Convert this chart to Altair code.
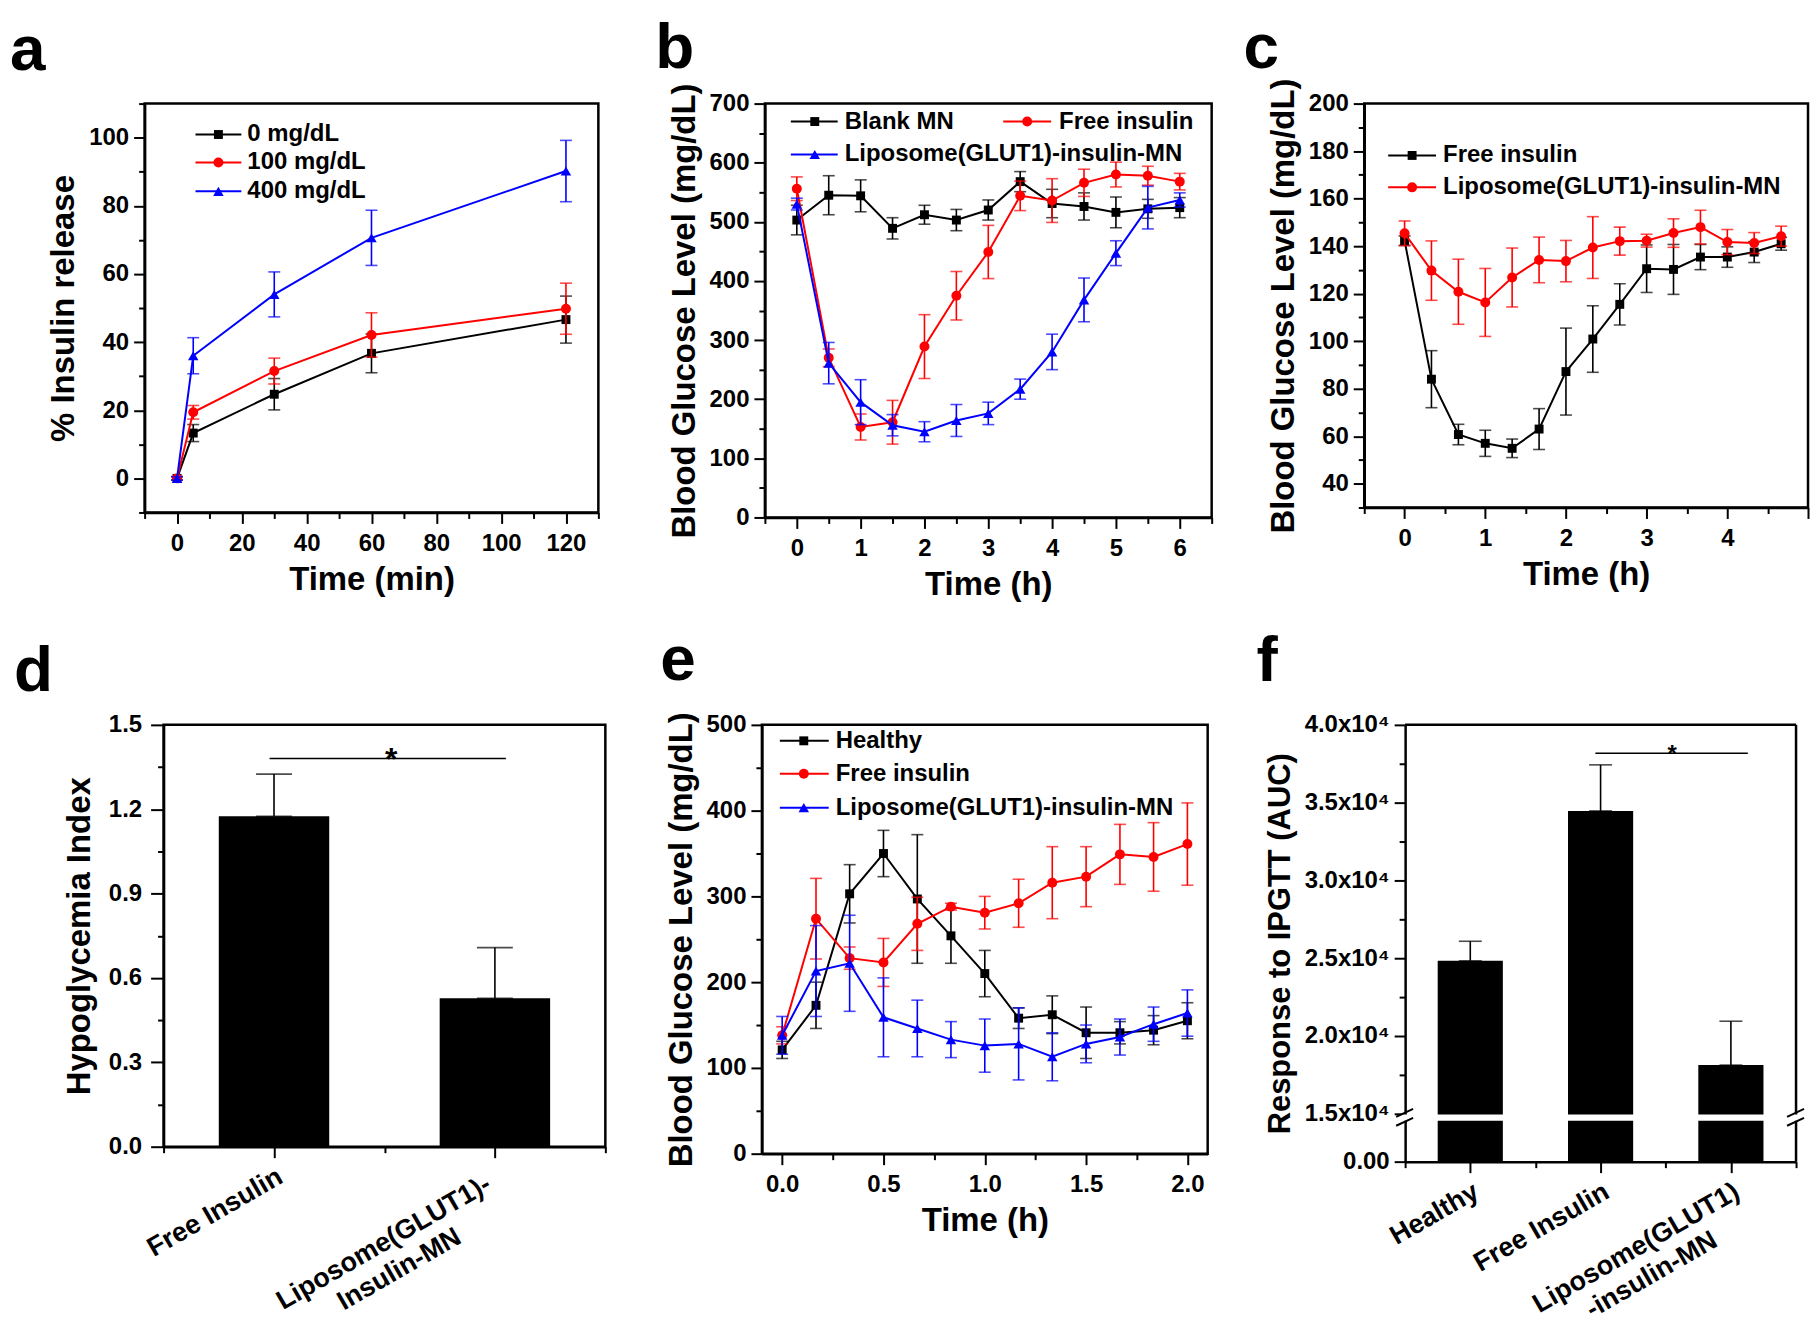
import json
import altair as alt
import pandas as pd

FONT = "Liberation Sans"
BLACK = "#000000"
RED = "#ff0000"
BLUE = "#0000ff"

# ---------------- data ----------------
a_time = [0, 5, 30, 60, 120]
a_series = ["0 mg/dL", "100 mg/dL", "400 mg/dL"]
a_0 = [0.0, 13.3, 24.7, 36.7, 46.6]
a_0_err = [0.5, 2.5, 4.6, 5.7, 6.9]
a_100 = [0.0, 19.4, 31.5, 42.1, 49.8]
a_100_err = [0.5, 2.0, 3.8, 6.5, 7.5]
a_400 = [0.0, 36.0, 54.0, 70.6, 90.2]
a_400_err = [0.5, 5.3, 6.6, 8.1, 9.0]

b_time = [0, 0.5, 1, 1.5, 2, 2.5, 3, 3.5, 4, 4.5, 5, 5.5, 6]
b_series = ["Blank MN", "Free insulin", "Liposome(GLUT1)-insulin-MN"]
b_blank = [503, 545, 544, 489, 512, 503, 520, 568, 531, 526, 516, 522, 524]
b_blank_err = [25, 33, 27, 18, 16, 18, 17, 17, 24, 23, 26, 16, 17]
b_free = [556, 270, 153, 161, 289, 375, 449, 544, 536, 566, 580, 578, 568]
b_free_err = [20, 15, 22, 37, 54, 41, 45, 25, 37, 23, 21, 16, 14]
b_lipo = [530, 261, 195, 156, 145, 164, 176, 217, 280, 368, 447, 524, 537]
b_lipo_err = [10, 35, 38, 18, 17, 27, 19, 17, 30, 37, 21, 36, 12]

c_time = [0, 0.333, 0.667, 1.0, 1.333, 1.667, 2.0, 2.333, 2.667, 3.0, 3.333, 3.667, 4.0, 4.333, 4.667]
c_series = ["Free insulin", "Liposome(GLUT1)-insulin-MN"]
c_free = [142.3, 84.0, 60.7, 57.0, 54.9, 63.0, 87.2, 100.9, 115.5, 130.5, 130.2, 135.4, 135.4, 137.5, 141.0]
c_free_err = [2.0, 12.0, 4.3, 5.5, 3.9, 8.6, 18.3, 14.0, 8.7, 10.0, 10.5, 5.3, 4.3, 4.4, 2.7]
c_lipo = [145.4, 129.7, 120.8, 116.3, 126.8, 134.2, 133.7, 139.4, 142.1, 142.3, 145.5, 148.0, 141.7, 141.3, 144.2]
c_lipo_err = [5.2, 12.5, 13.7, 14.3, 12.4, 9.6, 8.7, 13.0, 5.9, 2.7, 6.0, 7.1, 5.3, 4.4, 4.2]

d_cats = ["Free Insulin", "Liposome(GLUT1)-|Insulin-MN"]
d_vals = [1.175, 0.528]
d_err = [0.15, 0.18]
d_sig_x = [-0.02, 1.05]
d_sig_y = 1.38
d_star_x = 0.53

e_time = [0, 0.167, 0.333, 0.5, 0.667, 0.833, 1.0, 1.167, 1.333, 1.5, 1.667, 1.833, 2.0]
e_series = ["Healthy", "Free insulin", "Liposome(GLUT1)-insulin-MN"]
e_healthy = [121, 173, 303, 350, 297, 254, 210, 158, 162, 141, 141, 144, 155]
e_healthy_err = [10, 27, 34, 27, 75, 32, 27, 12, 22, 30, 13, 17, 21]
e_free = [138, 274, 228, 223, 268, 288, 281, 292, 316, 323, 349, 346, 361]
e_free_err = [10, 47, 13, 28, 31, 4, 19, 28, 42, 35, 35, 40, 48]
e_lipo = [138, 213, 222, 159, 146, 133, 126, 128, 113, 128, 136, 151, 164]
e_lipo_err = [22, 53, 56, 46, 33, 21, 31, 42, 28, 22, 21, 20, 27]

f_cats = ["Healthy", "Free Insulin", "Liposome(GLUT1)|-insulin-MN"]
f_vals = [24830, 34470, 18130]
f_err = [1260, 2960, 2820]
f_sig_x = [0.96, 2.13]
f_sig_y = 38180
f_star_x = 1.55

# ---------------- layout ----------------
A_W, A_H = 455, 410
B_W, B_H = 448, 415
C_W, C_H = 445, 405
D_W, D_H = 443, 423
E_W, E_H = 447, 430
F_W, F_H = 392, 438
SP_AB, SP_BC = 167, 153
SP_DE, SP_EF = 157, 198
ROW_SP = 24
ROW2_SHIFT = 19
LETTER_FS = 64
TICK_FS = 24

COLORS3 = [BLACK, RED, BLUE]
SHAPES3 = ["square", "circle", "triangle-up"]
SIZES3 = [80, 100, 110]


def frange(start, stop, step):
    out, k = [], 0
    while start + k * step <= stop + 1e-9:
        out.append(round(start + k * step, 6))
        k += 1
    return out


def make_axis(title, values, orient, label_expr=None, fmt=None, label_size=TICK_FS,
              title_size=33, label_pad=5, title_pad=8, **extra):
    kw = dict(
        title=title, values=values, orient=orient,
        tickSize=11, tickWidth=2, tickColor=BLACK, ticks=True, grid=False,
        domain=True, domainColor=BLACK, domainWidth=2.5,
        labelFont=FONT, labelFontSize=label_size, labelFontWeight="bold",
        labelColor=BLACK, labelPadding=label_pad, labelOverlap=False,
        labelFlush=False, labelLimit=0,
        titleFont=FONT, titleFontSize=title_size, titleFontWeight="bold",
        titleColor=BLACK, titlePadding=title_pad,
    )
    if label_expr is not None:
        kw["labelExpr"] = label_expr
    if fmt is not None:
        kw["format"] = fmt
    kw.update(extra)
    return alt.Axis(**kw)


def minor_axis(values, orient):
    return alt.Axis(values=values, orient=orient, labels=False, title=None, domain=False,
                    grid=False, ticks=True, tickSize=6, tickWidth=2, tickColor=BLACK)


def letter_layer(letter, x, y):
    return alt.Chart(pd.DataFrame({"l": [letter]})).mark_text(
        align="left", baseline="alphabetic", font=FONT, fontSize=LETTER_FS,
        fontWeight="bold", color=BLACK
    ).encode(x=alt.value(x), y=alt.value(y), text="l:N")


def legend_layers(labels, colors, shapes, sizes, pos):
    out = []
    for lab, col, shp, sz, (x0, x1, xm, xt, yy) in zip(labels, colors, shapes, sizes, pos):
        c = alt.Chart(pd.DataFrame({"label": [lab]}))
        out.append(c.mark_rule(color=col, strokeWidth=2).encode(
            x=alt.value(x0), x2=alt.value(x1), y=alt.value(yy)))
        out.append(c.mark_point(shape=shp, filled=True, color=col, size=sz, opacity=1).encode(
            x=alt.value(xm), y=alt.value(yy)))
        out.append(c.mark_text(align="left", baseline="middle", font=FONT, fontSize=24,
                               fontWeight="bold", color=BLACK).encode(
            x=alt.value(xt), y=alt.value(yy), text="label:N"))
    return out


def cat_label_layers(cats, xs, h, pad, dx_multi, fs=27, lh=31):
    out = []
    for i, c in enumerate(cats):
        multi = "|" in c
        dfc = pd.DataFrame({"idx": [i], "label": [c]})
        out.append(alt.Chart(dfc).mark_text(
            angle=330, align="center" if multi else "right", baseline="top",
            lineBreak="|", lineHeight=lh, font=FONT, fontSize=fs, fontWeight="bold",
            color=BLACK, dx=dx_multi if multi else 0
        ).encode(x=alt.X("idx:Q", scale=xs, axis=None), y=alt.value(h + pad), text="label:N"))
    return out


def finish(main_layers, df, xf, yf, xs, ys, xmajor, ymajor, xminor, yminor, w, h, stroke=True):
    major = alt.Chart(df).mark_point(opacity=0, size=1).encode(
        x=alt.X(f"{xf}:Q", scale=xs, axis=xmajor),
        y=alt.Y(f"{yf}:Q", scale=ys, axis=ymajor))
    minor = alt.Chart(df).mark_point(opacity=0, size=1).encode(
        x=alt.X(f"{xf}:Q", scale=xs, axis=minor_axis(xminor, "bottom")),
        y=alt.Y(f"{yf}:Q", scale=ys, axis=minor_axis(yminor, "left")))
    main = alt.layer(*main_layers)
    view = (alt.ViewBackground(stroke=BLACK, strokeWidth=2.5, fill="white") if stroke
            else alt.ViewBackground(stroke="transparent", fill="white"))
    return alt.layer(main, major, minor).resolve_axis(x="independent", y="independent").properties(
        width=w, height=h, view=view)


def line_panel(t, series, values, errs, colors, shapes, sizes, xdom, ydom,
               xaxis, yaxis, xminor, yminor, w, h, leg_pos, letter, lpos, extra=()):
    rows = []
    for s, vs, es in zip(series, values, errs):
        for ti, v, e in zip(t, vs, es):
            rows.append({"t": ti, "v": v, "lo": v - e, "hi": v + e, "series": s})
    df = pd.DataFrame(rows)
    xs = alt.Scale(domain=xdom, nice=False, zero=False)
    ys = alt.Scale(domain=ydom, nice=False, zero=False)
    layers = []
    for s, col, shp, sz in zip(series, colors, shapes, sizes):
        base = alt.Chart(df).transform_filter(alt.datum.series == s)
        layers.append(base.mark_line(color=col, strokeWidth=2).encode(
            x=alt.X("t:Q", scale=xs, axis=None), y=alt.Y("v:Q", scale=ys, axis=None)))
        layers.append(base.mark_errorbar(ticks=True, size=12, thickness=1.6, color=col).encode(
            x=alt.X("t:Q", scale=xs, axis=None), y=alt.Y("lo:Q", scale=ys, axis=None),
            y2="hi:Q"))
        layers.append(base.mark_point(shape=shp, filled=True, color=col, size=sz, opacity=1).encode(
            x=alt.X("t:Q", scale=xs, axis=None), y=alt.Y("v:Q", scale=ys, axis=None)))
    layers += legend_layers(series, colors, shapes, sizes, leg_pos)
    layers.append(letter_layer(letter, *lpos))
    layers += list(extra)
    return finish(layers, df, "t", "v", xs, ys, xaxis, yaxis, xminor, yminor, w, h)


one = alt.Chart(pd.DataFrame({"z": [0]}))
top_pad = one.mark_point(opacity=0, size=1).encode(x=alt.value(0), y=alt.value(-92))

a_chart = line_panel(
    a_time, a_series, [a_0, a_100, a_400], [a_0_err, a_100_err, a_400_err],
    COLORS3, SHAPES3, SIZES3, [-10, 130], [-10, 110],
    make_axis("Time (min)", frange(0, 120, 20), "bottom", label_pad=8),
    make_axis("% Insulin release", frange(0, 100, 20), "left"),
    frange(-10, 130, 20), frange(-10, 110, 20),
    A_W, A_H,
    [(51, 97, 74, 103, 31), (51, 97, 74, 103, 59), (51, 97, 74, 103, 88)],
    "a", (-135, -34), extra=(top_pad,))

b_chart = line_panel(
    b_time, b_series, [b_blank, b_free, b_lipo], [b_blank_err, b_free_err, b_lipo_err],
    COLORS3, SHAPES3, SIZES3, [-0.5, 6.5], [0, 700],
    make_axis("Time (h)", frange(0, 6, 1), "bottom", label_pad=8),
    make_axis("Blood Glucose Level (mg/dL)", frange(0, 700, 100), "left"),
    frange(-0.5, 6.5, 1), frange(50, 650, 100),
    B_W, B_H,
    [(26, 73, 50, 80, 18), (239, 287, 263, 295, 18), (26, 73, 50, 80, 51)],
    "b", (-110, -36))

c_chart = line_panel(
    c_time, c_series, [c_free, c_lipo], [c_free_err, c_lipo_err],
    [BLACK, RED], ["square", "circle"], [80, 100], [-0.5, 5.0], [30, 200],
    make_axis("Time (h)", frange(0, 5, 1), "bottom",
              label_expr="datum.value < 4.5 ? datum.label : ''", label_pad=8),
    make_axis("Blood Glucose Level (mg/dL)", frange(40, 200, 20), "left"),
    frange(-0.5, 4.5, 1), frange(30, 190, 20),
    C_W, C_H,
    [(24, 72, 48, 79, 52), (24, 72, 48, 79, 84)],
    "c", (-121, -36))

e_chart = line_panel(
    e_time, e_series, [e_healthy, e_free, e_lipo], [e_healthy_err, e_free_err, e_lipo_err],
    COLORS3, SHAPES3, SIZES3, [-0.1, 2.1], [0, 500],
    make_axis("Time (h)", frange(0, 2, 0.5), "bottom", fmt=".1f", label_pad=8),
    make_axis("Blood Glucose Level (mg/dL)", frange(0, 500, 100), "left"),
    frange(0.25, 1.75, 0.5), frange(50, 450, 100),
    E_W, E_H,
    [(18, 67, 42, 74, 16), (18, 67, 42, 74, 49), (18, 67, 42, 74, 83)],
    "e", (-102, -45))

# ---------------- panel d ----------------
d_df = pd.DataFrame({"idx": list(range(len(d_cats))), "v": d_vals, "e": d_err})
d_xs = alt.Scale(domain=[-0.5, 1.5], nice=False, zero=False)
d_ys = alt.Scale(domain=[0, 1.5], nice=False, zero=False)
d_xaxis = make_axis(None, [0, 1], "bottom", labels=False)
d_yaxis = make_axis("Hypoglycemia Index", frange(0, 1.5, 0.3), "left", fmt=".1f",
                    title_size=33, label_pad=9, title_pad=12, tickSize=13)
d_base = alt.Chart(d_df).transform_calculate(
    x0="datum.idx - 0.25", x1="datum.idx + 0.25", top="datum.v + datum.e")
d_bars = d_base.mark_bar(color=BLACK).encode(
    x=alt.X("x0:Q", scale=d_xs, axis=None), x2="x1:Q",
    y=alt.Y("v:Q", scale=d_ys, axis=None), y2=alt.datum(0))
d_errb = d_base.mark_errorbar(ticks=True, size=36, thickness=1.6, color=BLACK).encode(
    x=alt.X("idx:Q", scale=d_xs, axis=None), y=alt.Y("v:Q", scale=d_ys, axis=None), y2="top:Q")
d_sig_df = pd.DataFrame({"x0": [d_sig_x[0]], "x1": [d_sig_x[1]], "y": [d_sig_y],
                         "xs": [d_star_x], "s": ["*"]})
d_sig = alt.Chart(d_sig_df).mark_rule(color=BLACK, strokeWidth=1.5).encode(
    x=alt.X("x0:Q", scale=d_xs, axis=None), x2="x1:Q", y=alt.Y("y:Q", scale=d_ys, axis=None))
d_star = alt.Chart(d_sig_df).mark_text(font=FONT, fontSize=32, fontWeight="bold", dy=11,
                                       baseline="alphabetic", align="center", color=BLACK).encode(
    x=alt.X("xs:Q", scale=d_xs, axis=None), y=alt.Y("y:Q", scale=d_ys, axis=None), text="s:N")
d_labels = cat_label_layers(d_cats, d_xs, D_H, 17, -136)
d_chart = finish([d_bars, d_errb, d_sig, d_star, *d_labels, letter_layer("d", -150, -34)],
                 d_df, "idx", "v", d_xs, d_ys, d_xaxis, d_yaxis,
                 [-0.5, 0.5, 1.5], frange(0.15, 1.35, 0.3), D_W, D_H)

# ---------------- panel f ----------------
f_df = pd.DataFrame({"idx": list(range(len(f_cats))), "v": f_vals, "e": f_err})
f_xs = alt.Scale(domain=[-0.5, 2.5], nice=False, zero=False)
f_ys = alt.Scale(domain=[0, 14500, 15000, 40000], range=[F_H, F_H - 41, F_H - 48, 0],
                 nice=False, zero=False)
f_label = ("datum.value < 1 ? '0.00' : "
           "format(datum.value / 10000, '.1f') + 'x10\u2074'")
f_yaxis = make_axis("Response to IPGTT (AUC)", [0] + frange(15000, 40000, 5000), "left",
                    label_expr=f_label, title_size=31)
f_xaxis = make_axis(None, [0, 1, 2], "bottom", labels=False)
f_base = alt.Chart(f_df).transform_calculate(
    x0="datum.idx - 0.25", x1="datum.idx + 0.25", top="datum.v + datum.e")
f_bars = f_base.mark_bar(color=BLACK).encode(
    x=alt.X("x0:Q", scale=f_xs, axis=None), x2="x1:Q",
    y=alt.Y("v:Q", scale=f_ys, axis=None), y2=alt.datum(0))
f_errb = f_base.mark_errorbar(ticks=True, size=23, thickness=1.6, color=BLACK).encode(
    x=alt.X("idx:Q", scale=f_xs, axis=None), y=alt.Y("v:Q", scale=f_ys, axis=None), y2="top:Q")
f_sig_df = pd.DataFrame({"x0": [f_sig_x[0]], "x1": [f_sig_x[1]], "y": [f_sig_y],
                         "xs": [f_star_x], "s": ["*"]})
f_sig = alt.Chart(f_sig_df).mark_rule(color=BLACK, strokeWidth=1.5).encode(
    x=alt.X("x0:Q", scale=f_xs, axis=None), x2="x1:Q", y=alt.Y("y:Q", scale=f_ys, axis=None))
f_star = alt.Chart(f_sig_df).mark_text(font=FONT, fontSize=24, fontWeight="bold", dy=9,
                                       baseline="alphabetic", align="center", color=BLACK).encode(
    x=alt.X("xs:Q", scale=f_xs, axis=None), y=alt.Y("y:Q", scale=f_ys, axis=None), text="s:N")
f_top = one.mark_rule(color=BLACK, strokeWidth=2.5).encode(
    x=alt.value(0), x2=alt.value(F_W), y=alt.value(0))
f_right = one.mark_rule(color=BLACK, strokeWidth=2.5).encode(
    x=alt.value(F_W), y=alt.value(0), y2=alt.value(F_H))
f_gap = one.mark_rect(color="white").encode(
    x=alt.value(-4), x2=alt.value(F_W + 4),
    y=alt.Y(datum=14500, scale=f_ys, axis=None), y2=alt.datum(14950))
brk = []
for bx in (0, F_W):
    for off in (0, 9):
        brk.append(one.mark_rule(color=BLACK, strokeWidth=2).encode(
            x=alt.value(bx - 9), x2=alt.value(bx + 8),
            y=alt.value(F_H - 45 + off), y2=alt.value(F_H - 53 + off)))
f_labels = cat_label_layers(f_cats, f_xs, F_H, 17, -117)
f_chart = finish([f_bars, f_errb, f_sig, f_star, f_top, f_right, f_gap, *brk, *f_labels,
                  letter_layer("f", -149, -44)],
                 f_df, "idx", "v", f_xs, f_ys, f_xaxis, f_yaxis,
                 [-0.5, 0.5, 1.5, 2.5], frange(17500, 37500, 5000), F_W, F_H, stroke=False)

# ---------------- composition ----------------
spacer = one.mark_point(opacity=0, size=1).encode(x=alt.value(0), y=alt.value(0)).properties(
    width=ROW2_SHIFT, height=10, view=alt.ViewBackground(stroke="transparent"))
row1 = alt.hconcat(a_chart, alt.hconcat(b_chart, c_chart, spacing=SP_BC, bounds="flush"),
                   spacing=SP_AB, bounds="flush")
row2 = alt.hconcat(spacer,
                   alt.hconcat(d_chart, alt.hconcat(e_chart, f_chart, spacing=SP_EF, bounds="flush"),
                               spacing=SP_DE, bounds="flush"),
                   spacing=0, bounds="flush")
chart = alt.vconcat(row1, row2, spacing=ROW_SP, bounds="full").properties(
    padding=0, background="white")

chart.save("out.html", embed_options={"renderer": "svg", "actions": False})
